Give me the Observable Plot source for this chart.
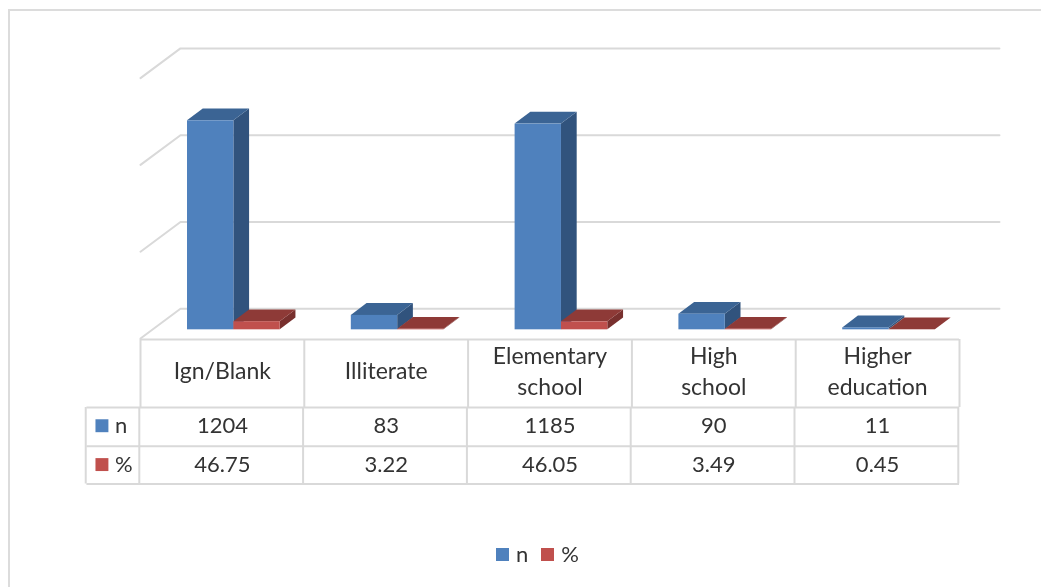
<!DOCTYPE html>
<html>
<head>
<meta charset="utf-8">
<script src="https://cdn.jsdelivr.net/npm/d3@7"></script>
<script src="https://cdn.jsdelivr.net/npm/@observablehq/plot@0.6"></script>
<style>
  html, body { margin: 0; padding: 0; background: #fff; }
  body { width: 1041px; height: 587px; overflow: hidden; position: relative; font-family: Lato, "Open Sans", sans-serif; color: #333; }
  #page { position: absolute; inset: 0; filter: blur(0.4px); }
  #frame { position: absolute; left: 8px; top: 9px; right: 0; bottom: 0; border-top: 2.5px solid #dcdcdc; border-left: 2.5px solid #dcdcdc; }
  #chart { position: absolute; left: 0; top: 0; }
  #table { position: absolute; left: 0; top: 330px; }
  #chart svg, #table svg { display: block; background: transparent; overflow: visible; }
  #legend { position: absolute; left: 496px; top: 540px; height: 28px; display: flex; align-items: center; font-size: 22px; line-height: 28px; }
  #legend i { display: inline-block; width: 13px; height: 13px; margin-right: 7px; }
  #legend span { margin-right: 13px; }
</style>
</head>
<body>
<div id="page">
<div id="frame"></div>
<div id="chart"></div>
<div id="table"></div>
<div id="legend"></div>
</div>
<script>
// ---- chart values ----
const categories = ["Ign/Blank", "Illiterate", "Elementary\nschool", "High\nschool", "Higher\neducation"];
const nValues = [1204, 83, 1185, 90, 11];
const pctValues = [46.75, 3.22, 46.05, 3.49, 0.45];
const nLabels = ["1204", "83", "1185", "90", "11"];
const pctLabels = ["46.75", "3.22", "46.05", "3.49", "0.45"];
const axisTicks = [0, 500, 1000, 1500];
const seriesNames = ["n", "%"];

// ---- style and layout ----
const front = {n: "#4f81bd", "%": "#c0504d"};
const side = {n: "#31537d", "%": "#78302e"};
const topFace = {n: "#3b6494", "%": "#8e3a37"};
const lineColor = "#d9d9d9";
const textColor = "#333333";
const fontFamily = "Lato, 'Open Sans', sans-serif";
const headerSize = 23, valueSize = 22;
const floorDepthX = 0.244, floorDepthY = 171;   // depth of the 3D floor, in scale units
const barDepthX = 0.096, barDepthY = 68;        // depth of a bar, in scale units
const barLead = 0.287, barWidth = 0.283;        // bar placing inside a category
const barBase = 50;                             // bars stand this far back on the floor
const xScale = {type: "linear", domain: [0, 5], range: [140, 959]};

// ---- rows built from the arrays ----
const bars = seriesNames.flatMap((name, s) =>
  (s === 0 ? nValues : pctValues).map((v, i) => ({
    name,
    id: name + i,
    x1: i + barLead + s * barWidth,
    x2: i + barLead + (s + 1) * barWidth,
    y1: barBase,
    y2: barBase + v
  }))
);
const sideRows = bars.flatMap(b => [
  {...b, x: b.x2, low: b.y1, high: b.y2},
  {...b, x: b.x2 + barDepthX, low: b.y1 + barDepthY, high: b.y2 + barDepthY}
]);
const topRows = bars.flatMap(b => [
  {...b, y: b.y2, left: b.x1, right: b.x2},
  {...b, y: b.y2 + barDepthY, left: b.x1 + barDepthX, right: b.x2 + barDepthX}
]);
const gridRows = axisTicks.flatMap(t => [
  {tick: t, x: 0, y: t},
  {tick: t, x: floorDepthX, y: t + floorDepthY},
  {tick: t, x: 5 + floorDepthX, y: t + floorDepthY}
]);

const barMarks = seriesNames.flatMap(name => [
  Plot.areaY(sideRows.filter(d => d.name === name), {x: "x", y1: "low", y2: "high", z: "id", fill: side[name], curve: "linear"}),
  Plot.areaX(topRows.filter(d => d.name === name), {y: "y", x1: "left", x2: "right", z: "id", fill: topFace[name], curve: "linear"}),
  Plot.rect(bars.filter(d => d.name === name), {x1: "x1", x2: "x2", y1: "y1", y2: "y2", fill: front[name]})
]);

const chart = Plot.plot({
  width: 1041, height: 345,
  marginLeft: 0, marginRight: 0, marginTop: 0, marginBottom: 0,
  x: {...xScale, axis: null},
  y: {type: "linear", domain: [0, 1500], range: [338, 77.6], axis: null},
  marks: [
    Plot.line(gridRows, {x: "x", y: "y", z: "tick", stroke: lineColor, strokeWidth: 2}),
    ...barMarks
  ]
});
document.getElementById("chart").append(chart);

// ---- data table ----
const rowEdges = [0, 1.75, 2.75, 3.72];
const rowCenters = {n: 2.22, "%": 3.22};
const labelEdge = -0.327;
const headerRows = categories.map((c, i) => ({c, x: i + 0.5, y: 0.77}));
const valueRows = seriesNames.flatMap((name, s) =>
  (s === 0 ? nLabels : pctLabels).map((t, i) => ({t, x: i + 0.5, y: rowCenters[name]}))
);
const columnEdges = d3.range(0, 6);
const labelRows = seriesNames.map(name => ({name, x: labelEdge, y: rowCenters[name]}));

const table = Plot.plot({
  width: 1041, height: 165,
  marginLeft: 0, marginRight: 0, marginTop: 0, marginBottom: 0,
  x: {...xScale, axis: null},
  y: {type: "linear", domain: [0, 3.72], range: [9, 153.5], axis: null},
  marks: [
    Plot.ruleY([rowEdges[0]], {x1: 0, x2: 5, stroke: lineColor, strokeWidth: 2}),
    Plot.ruleY(rowEdges.slice(1), {x1: labelEdge, x2: 5, stroke: lineColor, strokeWidth: 2}),
    Plot.ruleX(columnEdges, {y1: rowEdges[0], y2: rowEdges[1], stroke: lineColor, strokeWidth: 2}),
    Plot.ruleX([labelEdge, ...columnEdges], {y1: rowEdges[1], y2: rowEdges[3], dx: -1.2, stroke: lineColor, strokeWidth: 2}),
    Plot.text(headerRows, {x: "x", y: "y", text: "c", fill: textColor, fontSize: headerSize, fontFamily, lineHeight: 1.35}),
    Plot.text(valueRows, {x: "x", y: "y", text: "t", fill: textColor, fontSize: valueSize, fontFamily}),
    Plot.dot(labelRows, {x: "x", y: "y", dx: 15, symbol: "square", r: 7.3, fill: d => front[d.name], stroke: null}),
    Plot.text(labelRows, {x: "x", y: "y", text: "name", dx: 28, textAnchor: "start", fill: textColor, fontSize: valueSize, fontFamily})
  ]
});
document.getElementById("table").append(table);

// ---- legend ----
const legend = document.getElementById("legend");
seriesNames.forEach(name => {
  const swatch = document.createElement("i");
  swatch.style.background = front[name];
  const label = document.createElement("span");
  label.textContent = name;
  legend.append(swatch, label);
});
</script>
</body>
</html>
